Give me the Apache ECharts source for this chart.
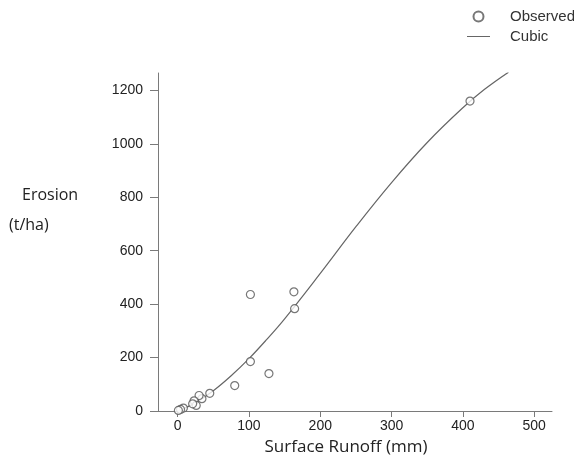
<!DOCTYPE html>
<html>
<head>
<meta charset="UTF-8">
<title>Erosion vs Surface Runoff</title>
<script type="text/javascript" src="https://cdn.jsdelivr.net/npm/echarts@6/dist/echarts.min.js"></script>
</head>
<body style="margin:0;background:#fff;">
	<div id="box" style="width:574px;height:461px;"></div>
	<script type="text/javascript">
		// observed points: surface runoff (mm), erosion (t/ha)
		var obsRunoff  = [410, 102, 163, 164, 102, 128, 80, 45, 34, 30, 23, 26, 21, 8, 4, 1];
		var obsErosion = [1160, 436, 446, 383, 185, 140, 95, 66, 46, 58, 38, 21, 27, 11, 6, 2];
		// cubic fit curve
		var fitRunoff  = [1, 25, 50, 75, 100, 125, 150, 200, 250, 300, 350, 400, 430, 464];
		var fitErosion = [1, 31, 76, 132, 196, 268, 345, 515, 690, 855, 1005, 1135, 1203, 1268];
		var xTicks = [0, 100, 200, 300, 400, 500];
		var yTicks = [0, 200, 400, 600, 800, 1000, 1200];

		function pairs(xs, ys) {
			var out = [];
			for (var i = 0; i < xs.length; i++) out.push([xs[i], ys[i]]);
			return out;
		}

		var axisColor = '#7a7a7a';
		var labelFont = {color: '#222', fontSize: 14, fontFamily: 'Liberation Sans'};

		var mychart = echarts.init(document.getElementById('box'));
		var option = {
			animation: false,
			grid: {left: 158, right: 22, top: 73, bottom: 45, containLabel: false},
			legend: {
				orient: 'vertical',
				left: 462,
				top: 4,
				itemWidth: 23,
				itemHeight: 10,
				itemGap: 5,
				textStyle: {color: '#333', fontSize: 15, fontFamily: 'Liberation Sans', padding: [0, 0, 0, 15]},
				data: [
					{name: 'Observed'},
					{name: 'Cubic', icon: 'path://M0,0L23,0L23,1L0,1Z'}
				]
			},
			xAxis: {
				type: 'value',
				min: -27.6,
				max: 525,
				name: 'Surface Runoff (mm)',
				nameLocation: 'middle',
				nameGap: 28,
				nameTextStyle: {color: '#222', fontSize: 17, fontFamily: 'Open Sans', padding: [0, 18, 0, 0]},
				axisLine: {onZero: false, lineStyle: {color: axisColor, width: 1}},
				axisTick: {show: true, length: 6, lineStyle: {color: axisColor}, customValues: xTicks},
				axisLabel: Object.assign({margin: 8, customValues: xTicks}, labelFont),
				splitLine: {show: false}
			},
			yAxis: {
				type: 'value',
				min: 0,
				max: 1265,
				axisLine: {show: true, onZero: false, lineStyle: {color: axisColor, width: 1}},
				axisTick: {show: true, length: 8, lineStyle: {color: axisColor}, customValues: yTicks},
				axisLabel: Object.assign({
					margin: 15,
					customValues: yTicks,
					formatter: function (v) { return String(v); }
				}, labelFont),
				splitLine: {show: false}
			},
			graphic: [
				{type: 'text', left: 22, top: 187, style: {text: 'Erosion', fill: '#222', font: '16px "Open Sans"'}},
				{type: 'text', left: 9, top: 217, style: {text: '(t/ha)', fill: '#222', font: '16px "Open Sans"'}}
			],
			series: [{
				name: 'Observed',
				type: 'scatter',
				symbol: 'circle',
				symbolSize: 8,
				itemStyle: {color: '#fff', borderColor: '#555', borderWidth: 1.2},
				data: pairs(obsRunoff, obsErosion),
				z: 3
			}, {
				name: 'Cubic',
				type: 'line',
				smooth: 0.4,
				symbol: 'none',
				showSymbol: false,
				lineStyle: {color: '#666', width: 1.2},
				itemStyle: {color: '#666'},
				data: pairs(fitRunoff, fitErosion),
				z: 2
			}]
		};
		mychart.setOption(option);
	</script>
</body>
</html>
